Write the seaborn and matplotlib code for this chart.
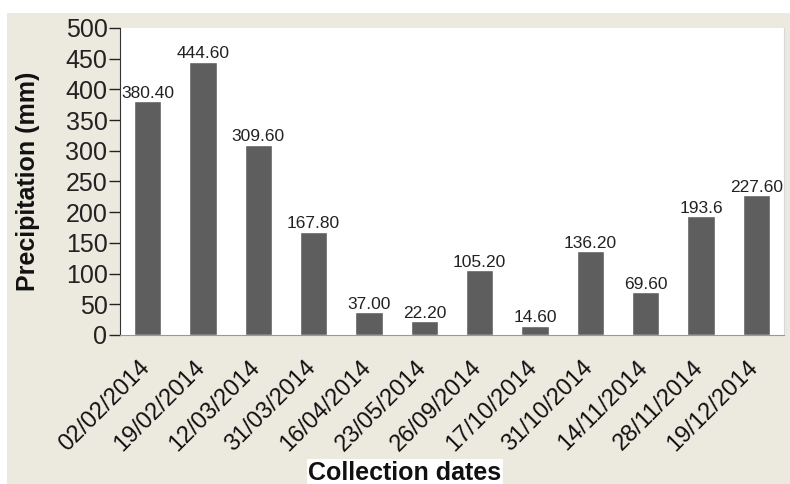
import pandas as pd
import seaborn as sns
import matplotlib.pyplot as plt
from matplotlib.patches import Rectangle
from matplotlib.transforms import ScaledTranslation

dates = ['02/02/2014', '19/02/2014', '12/03/2014', '31/03/2014', '16/04/2014', '23/05/2014',
         '26/09/2014', '17/10/2014', '31/10/2014', '14/11/2014', '28/11/2014', '19/12/2014']
precip = [380.40, 444.60, 309.60, 167.80, 37.00, 22.20, 105.20, 14.60, 136.20, 69.60, 193.6, 227.60]
labels = ['380.40', '444.60', '309.60', '167.80', '37.00', '22.20', '105.20', '14.60',
          '136.20', '69.60', '193.6', '227.60']

df = pd.DataFrame({'date': dates, 'precip': precip})

sns.set_style('white')
plt.rcParams['font.family'] = ['Liberation Sans', 'DejaVu Sans']

fig = plt.figure(figsize=(7.9, 4.84), dpi=100, facecolor='white')
# beige panel behind the chart, leaving a thin white strip top and left
fig.patches.append(Rectangle((7 / 790, -0.1), 1, 1.1 - 13 / 484, transform=fig.transFigure,
                             facecolor='#ECE9DF', edgecolor='none', zorder=-10))
ax = fig.add_axes([120 / 790, 1 - 335 / 484, 664 / 790, 307 / 484])
ax.set_facecolor('white')

sns.barplot(data=df, x='date', y='precip', color='#5E5E5E', width=0.49, saturation=1, ax=ax)

for i, (v, t) in enumerate(zip(precip, labels)):
    ax.text(i, v + 1, t, ha='center', va='bottom', fontsize=12.5, color='#222222')

ax.set_ylim(0, 500)
ax.set_yticks(range(0, 501, 50))
ax.tick_params(axis='y', labelsize=18, length=8, width=1, direction='out', left=True,
               pad=1, colors='#222222')
ax.tick_params(axis='x', length=0, pad=12, colors='#111111')
shift = ScaledTranslation(-9 / 100, -5 / 100, fig.dpi_scale_trans)
for lab in ax.get_xticklabels():
    lab.set_rotation(45)
    lab.set_ha('right')
    lab.set_rotation_mode('anchor')
    lab.set_fontsize(17)
    lab.set_transform(lab.get_transform() + shift)

ax.spines['top'].set_visible(False)
ax.spines['right'].set_color('#D8D8D8')
ax.spines['left'].set_color('#333333')
ax.spines['bottom'].set_color('#999999')

ax.set_ylabel('Precipitation (mm)', fontsize=18, fontweight='bold', color='#111111')
ax.yaxis.set_label_coords(-0.12, 0.5)
ax.set_xlabel('Collection dates', fontsize=18, fontweight='bold', color='#111111',
              va='center', bbox=dict(facecolor='white', edgecolor='none', pad=1))
ax.xaxis.set_label_coords(0.429, -0.4495)

plt.savefig('out.png', dpi=100)
plt.close()
